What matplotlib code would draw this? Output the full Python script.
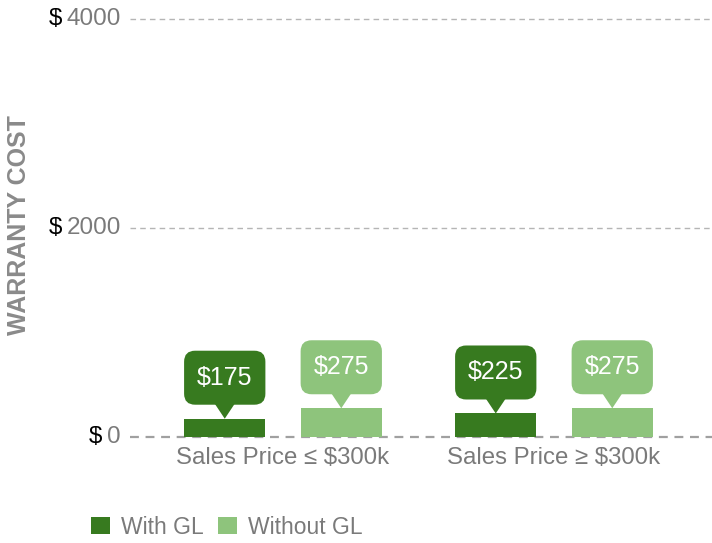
import numpy as np
import matplotlib.pyplot as plt
from matplotlib.patches import FancyBboxPatch, Polygon, Patch

plt.rcParams['font.family'] = ['Liberation Sans', 'DejaVu Sans']

categories = ["Sales Price \u2264 $300k", "Sales Price \u2265 $300k"]
series = ["With GL", "Without GL"]
with_gl = [175, 225]
without_gl = [275, 275]
yticks = [0, 2000, 4000]

colors = ["#377a1f", "#8ec47c"]
gray = "#7a7a7a"

W, H = 712, 543
fig = plt.figure(figsize=(W / 100, H / 100), dpi=100)
ax = fig.add_axes([130 / W, 106 / H, 582 / W, 418 / H])

x = np.arange(len(categories))
width = 0.30
offsets = [-0.215, 0.215]

ax.set_xlim(-0.5646, 1.583)
ax.set_ylim(0, 4000)

# data units per pixel, for sizing the callouts
ux = (1.583 + 0.5646) / 582
uy = 4000 / 418

for vals, off, col in zip([with_gl, without_gl], offsets, colors):
    ax.bar(x + off, vals, width, color=col, zorder=3)
    for xi, v in zip(x + off, vals):
        bottom = v + 14 * uy
        h = 54 * uy
        box = FancyBboxPatch((xi - width / 2, bottom), width, h,
                             boxstyle="round,pad=0,rounding_size=%f" % (11 * ux),
                             mutation_aspect=uy / ux, fc=col, ec="none", zorder=4)
        ax.add_patch(box)
        tri = Polygon([[xi - 10 * ux, bottom + 1 * uy], [xi + 10 * ux, bottom + 1 * uy], [xi, v]],
                      closed=True, fc=col, ec="none", zorder=4)
        ax.add_patch(tri)
        ax.text(xi, bottom + h / 2, "$%d" % v, color="white", fontsize=18,
                ha="center", va="center", zorder=5)

for s in ax.spines.values():
    s.set_visible(False)

for t in yticks:
    if t == 0:
        ax.axhline(0, color="#a0a0a0", lw=1.6, ls=(0, (4, 3)), zorder=2, clip_on=False)
    else:
        ax.axhline(t, color="#b5b5b5", lw=1, ls=(0, (4, 3)), zorder=1, clip_on=False)

ax.set_yticks([])
ax.set_xticks(x)
ax.set_xticklabels(categories, fontsize=17.3, color=gray)
ax.tick_params(axis="x", length=0, pad=7)

nums = []
for t in yticks:
    nums.append(ax.text(-9 / 582, t, "%d" % t, transform=ax.get_yaxis_transform(),
                        ha="right", va="center", fontsize=17.5, color=gray))

fig.canvas.draw()
inv = ax.transAxes.inverted()
for txt, t in zip(nums, yticks):
    bb = txt.get_window_extent()
    xa = inv.transform((bb.x0 - 5, 0))[0]
    ax.text(xa, t, "$", transform=ax.get_yaxis_transform(), ha="right", va="center",
            fontsize=17.5, color="black")

fig.text(19 / W, 227 / H + 0.002 + 90 / H, "WARRANTY COST", rotation=90, ha="center", va="center",
         fontsize=18, fontweight="bold", color="#8a8a8a")

handles = [Patch(fc=c, ec="none") for c in colors]
fig.legend(handles, series, loc="center left", bbox_to_anchor=(91 / W, 16 / H),
           frameon=False, ncol=2, fontsize=16.5, labelcolor=gray, borderpad=0,
           handlelength=0.82, handleheight=0.82, handletextpad=0.5, columnspacing=0.6,
           borderaxespad=0)

fig.savefig("out.png", dpi=100)
